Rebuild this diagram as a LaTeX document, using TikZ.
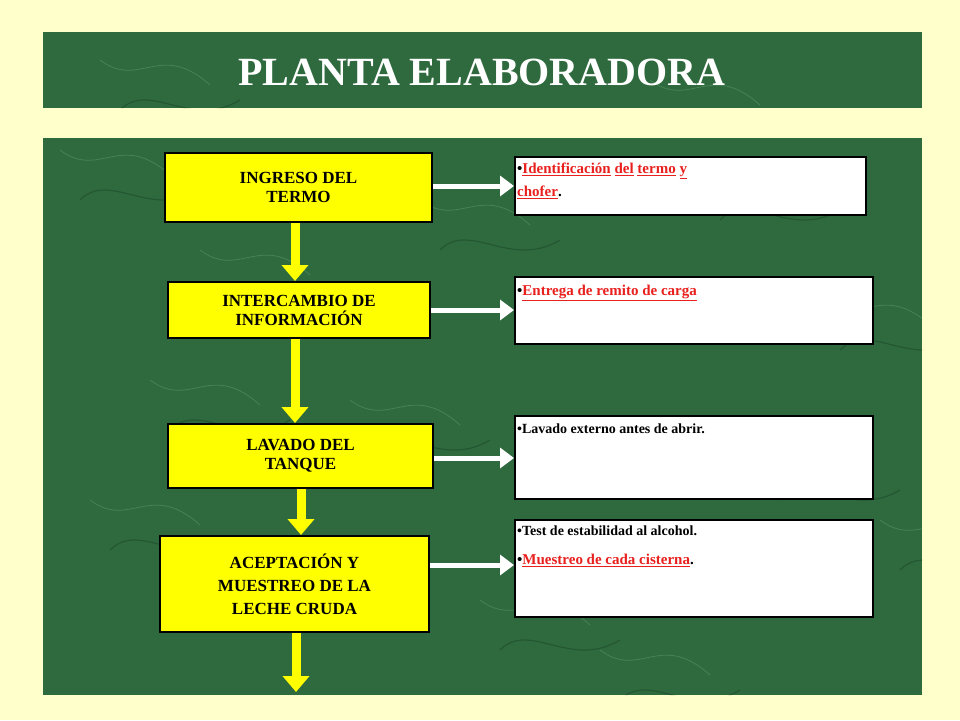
\documentclass[tikz,border=0pt]{standalone}
\usepackage{fontspec}
\setmainfont{Liberation Serif}
\usetikzlibrary{arrows.meta}
\definecolor{bgy}{HTML}{FFFFCC}
\definecolor{marble}{HTML}{2F6A3E}
\definecolor{marbled}{HTML}{1E4A2A}
\definecolor{marblel}{HTML}{5E9A6A}
\definecolor{redt}{HTML}{E8201E}
\definecolor{yel}{HTML}{FFFF00}
\begin{document}
\begin{tikzpicture}[x=1pt,y=-1pt,
  ybox/.style={draw=black,line width=2pt,fill=yel,font=\bfseries\fontsize{17}{19}\selectfont,align=center,inner sep=0pt},
  wbox/.style={draw=black,line width=2pt,fill=white,inner sep=0pt},
  yarrow/.style={yel,line width=9pt,-{Triangle[length=16pt,width=26pt]}},
  warrow/.style={white,line width=5pt,-{Triangle[length=14pt,width=20pt]}},
  btxt/.style={anchor=north west,font=\bfseries\fontsize{15}{26}\selectfont,align=justify,inner sep=0pt},
  rl/.style={}]
\fill[bgy] (0,0) rectangle (960,720);
\useasboundingbox (0,0) rectangle (960,720);
\fill[marble] (43,32) rectangle (922,108);
\fill[marble] (43,138) rectangle (922,695);
\begin{scope}
\clip (43,32) rectangle (922,108) (43,138) rectangle (922,695);
\foreach \x/\y in {60/150,200/250,350/400,480/600,700/170,820/300,90/500,600/650,880/520,150/380,760/450,420/200,650/80,100/60}{
  \draw[marblel,opacity=0.5,line width=0.8pt] (\x,\y) .. controls (\x+40,\y+30) and (\x+60,\y-20) .. (\x+110,\y+25);
  \draw[marbled,opacity=0.6,line width=1.2pt] (\x+20,\y+50) .. controls (\x+50,\y+20) and (\x+90,\y+70) .. (\x+140,\y+40);
}
\end{scope}
\node[font=\bfseries\fontsize{40}{44}\selectfont,text=white] (title) at (482,72) {PLANTA ELABORADORA};
% yellow boxes
\node[ybox,minimum width=267pt,minimum height=69pt] (b1) at (298.5,187.5) {INGRESO DEL\\TERMO};
\node[ybox,minimum width=262pt,minimum height=56pt] (b2) at (299,310) {INTERCAMBIO DE\\INFORMACIÓN};
\node[ybox,minimum width=265pt,minimum height=64pt] (b3) at (300.5,456) {LAVADO DEL\\TANQUE};
\node[ybox,minimum width=269pt,minimum height=96pt,font=\bfseries\fontsize{17}{23}\selectfont] (b4) at (294.5,584) {ACEPTACIÓN Y\\MUESTREO DE LA\\LECHE CRUDA};
\coordinate (end) at (296,692);
% white boxes
\node[wbox,minimum width=351pt,minimum height=58pt] (w1) at (690.5,186) {};
\node[wbox,minimum width=358pt,minimum height=67pt] (w2) at (694,310.5) {};
\node[wbox,minimum width=358pt,minimum height=83pt] (w3) at (694,457.5) {};
\node[wbox,minimum width=358pt,minimum height=97pt] (w4) at (694,568.5) {};
% arrows
\draw[yarrow] (b1.south -| 295,0) -- (b2.north -| 295,0);
\draw[yarrow] (b2.south -| 295,0) -- (b3.north -| 295,0);
\draw[yarrow] (b3.south -| 301,0) -- (b4.north -| 301,0);
\draw[yarrow] (b4.south -| 296,0) -- (end);
\draw[warrow] (b1.east |- 0,186) -- (w1.west |- 0,186);
\draw[warrow] (b2.east |- 0,310) -- (w2.west |- 0,310);
\draw[warrow] (b3.east |- 0,458) -- (w3.west |- 0,458);
\draw[warrow] (b4.east |- 0,565) -- (w4.west |- 0,565);
% texts
\node[btxt,text width=348pt] (t1) at (517,163) {\textbullet\textcolor{redt}{\underline{Identificación}\ \underline{del}\ \underline{termo}\ \underline{y}}\\[-3pt]\textcolor{redt}{\underline{chofer}}.};
\node[btxt] (t2) at (517,285) {\textbullet\textcolor{redt}{\underline{Entrega de remito de carga}}};
\node[btxt,font=\bfseries\fontsize{14}{20}\selectfont] (t3) at (517,424) {\textbullet Lavado externo antes de abrir.};
\node[btxt,font=\bfseries\fontsize{14}{20}\selectfont] (t4) at (517,526) {\textbullet Test de estabilidad al alcohol.};
\node[btxt] (t5) at (517,554) {\textbullet\textcolor{redt}{\underline{Muestreo de cada cisterna}}.};
\end{tikzpicture}
\end{document}
